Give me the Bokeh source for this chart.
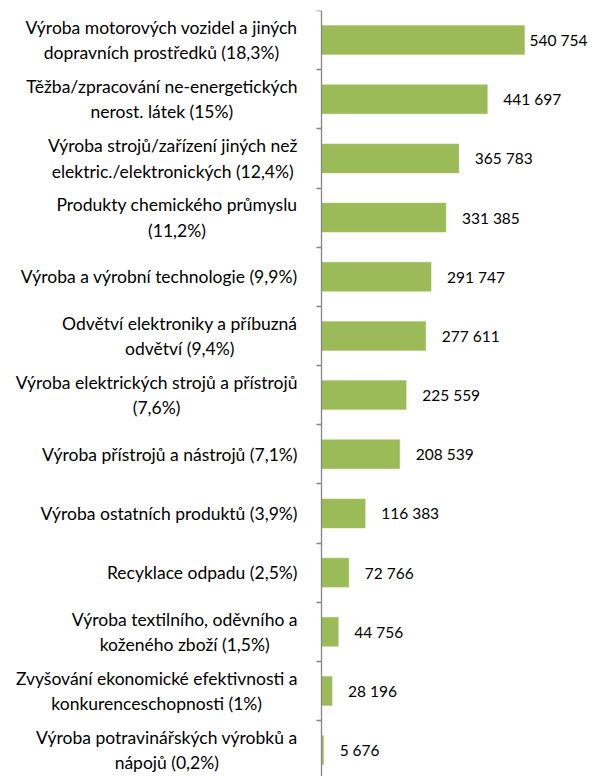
from bokeh.plotting import figure
from bokeh.models import Range1d, FixedTicker, ColumnDataSource
from bokeh.core.properties import value
from bokeh.embed import file_html
from bokeh.resources import INLINE

categories = [
    "Výroba motorových vozidel a jiných\ndopravních prostředků (18,3%)",
    "Těžba/zpracování ne-energetických\nnerost. látek (15%)",
    "Výroba strojů/zařízení jiných než\nelektric./elektronických (12,4%)",
    "Produkty chemického průmyslu\n(11,2%)",
    "Výroba a výrobní technologie (9,9%)",
    "Odvětví elektroniky a příbuzná\nodvětví (9,4%)",
    "Výroba elektrických strojů a přístrojů\n(7,6%)",
    "Výroba přístrojů a nástrojů (7,1%)",
    "Výroba ostatních produktů (3,9%)",
    "Recyklace odpadu (2,5%)",
    "Výroba textilního, oděvního a\nkoženého zboží (1,5%)",
    "Zvyšování ekonomické efektivnosti a\nkonkurenceschopnosti (1%)",
    "Výroba potravinářských výrobků a\nnápojů (0,2%)",
]
values = [540754, 441697, 365783, 331385, 291747, 277611, 225559,
          208539, 116383, 72766, 44756, 28196, 5676]

FONT = "Lato"
W, H = 593, 776
TOP = 10
AXIS_PX = 321          # axis position from left edge of frame (px)
UNITS_PER_PX = 2663.0  # data units per pixel
SPACING = 59.17        # px per category
FRAME_H = H - TOP

n = len(categories)
pos = [i + 0.5 for i in range(n)]
val_text = ["{:,}".format(v).replace(",", " ") for v in values]
vmax = max(values)
offsets = [5 if v == vmax else 16 for v in values]

src = ColumnDataSource(dict(y=pos, v=values, cat=categories, vt=val_text,
                            zero=[0] * n, off=offsets))

p = figure(width=W, height=H, output_backend="svg", toolbar_location=None,
           x_range=Range1d(-AXIS_PX * UNITS_PER_PX, (W - AXIS_PX) * UNITS_PER_PX),
           y_range=Range1d(FRAME_H / SPACING, 0))
p.min_border_top = TOP
p.min_border_bottom = 0
p.min_border_left = 0
p.min_border_right = 0
p.outline_line_color = None
p.xgrid.visible = False
p.ygrid.visible = False
p.xaxis.visible = False
p.background_fill_color = "white"
p.border_fill_color = "white"

p.hbar(y="y", left=0, right="v", height=0.49, source=src,
       fill_color="#9BBB59", line_color="#A6C46A", line_width=0.5)

p.text(x="v", y="y", text="vt", x_offset="off", source=src,
       text_font=value(FONT), text_font_size="15.5px", text_color="#000000",
       text_align="left", text_baseline="middle")

p.text(x="zero", y="y", text="cat", x_offset=-24, source=src,
       text_font=value(FONT), text_font_size="17.5px", text_color="#000000",
       text_align="center", anchor="center_right", text_baseline="middle",
       text_line_height=1.2)

ax = p.yaxis[0]
ax.fixed_location = 0
ax.ticker = FixedTicker(ticks=list(range(n + 1)), minor_ticks=[])
ax.major_label_overrides = {i: "" for i in range(n + 1)}
ax.major_label_text_font_size = "1px"
ax.axis_line_color = "#868686"
ax.axis_line_width = 1.3
ax.major_tick_line_color = "#868686"
ax.major_tick_line_width = 1.3
ax.major_tick_out = 5
ax.major_tick_in = 0
ax.minor_tick_line_color = None

open("out.html", "w").write(file_html(p, INLINE))
